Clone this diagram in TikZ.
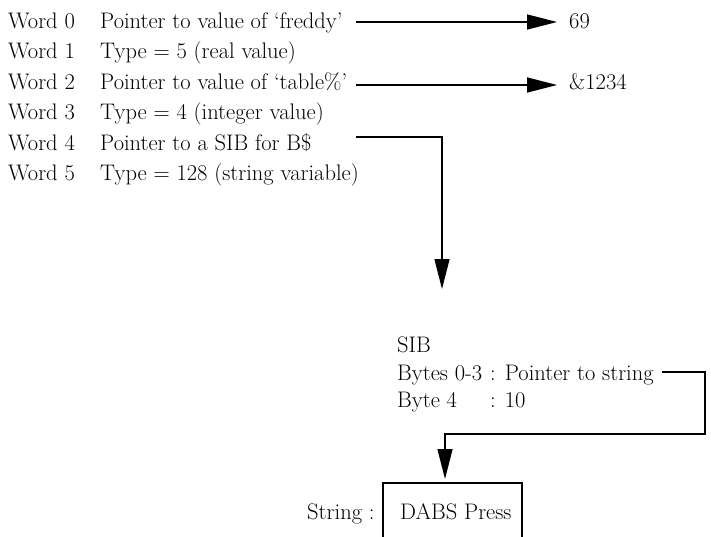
\documentclass[tikz,border=0pt]{standalone}
\usepackage{fontspec}
\usetikzlibrary{arrows.meta}
\begin{document}
\begin{tikzpicture}[x=1pt,y=-1pt,
  txt/.style={anchor=base west,inner sep=0pt,font=\fontsize{22.5}{27}\selectfont},
  conn/.style={line width=1.4pt},
  arr/.style={conn,-{Triangle[length=30pt,width=15pt]}}]
\useasboundingbox (0,0) rectangle (711,536);
% words
\foreach \i/\y in {0/28,1/58,2/89,3/119,4/150,5/180}{
  \node[txt] (w\i) at (8,\y) {Word \i};
}
\node[txt] (d0) at (100,28) {Pointer to value of `freddy'};
\node[txt] (d1) at (100,58) {Type = 5 (real value)};
\node[txt] (d2) at (100,89) {Pointer to value of `table\%'};
\node[txt] (d3) at (100,119) {Type = 4 (integer value)};
\node[txt] (d4) at (100,150) {Pointer to a SIB for B\$};
\node[txt] (d5) at (100,180) {Type = 128 (string variable)};
\node[txt] (v69) at (569,28) {69};
\node[txt] (v1234) at (569,89) {\&1234};
% SIB
\node[txt] (sib) at (397,352) {SIB};
\node[txt] (b03) at (397,380) {Bytes 0-3};
\node[txt] (ptr) at (490,380) {: Pointer to string};
\node[txt] (b4) at (397,407) {Byte 4};
\node[txt] (ten) at (490,407) {: 10};
% string
\node[txt] (strlbl) at (307,519) {String :};
\node[txt] (dabs) at (400,519) {DABS Press};
\coordinate (boxtl) at (383,483);
\coordinate (boxtr) at (522,483);
\draw[conn] (boxtl |- 0,540) -- (boxtl) -- (boxtr) -- (boxtr |- 0,540);
% connectors
\coordinate (a0s) at (356,22);
\coordinate (a0e) at (557,22);
\draw[arr] (a0s) -- (a0e);
\coordinate (a2s) at (356,85);
\coordinate (a2e) at (557,85);
\draw[arr] (a2s) -- (a2e);
\coordinate (a4s) at (356,137);
\coordinate (sibtop) at (442,289);
\draw[arr] (a4s) -| (sibtop);
\coordinate (p1) at (662,372);
\coordinate (p2) at (705,372);
\coordinate (p3) at (705,434);
\coordinate (p4) at (445,434);
\coordinate (boxin) at (445,479);
\draw[arr] (p1) -- (p2) -- (p3) -- (p4) -- (boxin);
\end{tikzpicture}
\end{document}
